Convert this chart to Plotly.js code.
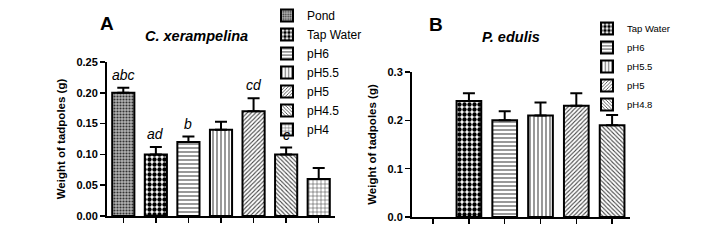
<!DOCTYPE html>
<html><head><meta charset="utf-8">
<script src="https://cdn.plot.ly/plotly-3.0.1.min.js"></script>
<style>html,body{margin:0;padding:0;background:#fff}#chart{width:712px;height:243px}</style>
</head><body><div id="chart"></div>
<script>
// Panel A: C. xerampelina
const catsA = ['Pond','Tap Water','pH6','pH5.5','pH5','pH4.5','pH4'];
const valsA = [0.200, 0.100, 0.120, 0.140, 0.170, 0.100, 0.060];
const errA  = [0.008, 0.012, 0.009, 0.013, 0.021, 0.011, 0.018];
const lettersA = ['abc','ad','b','','cd','c',''];
// Panel B: P. edulis (first slot empty)
const catsB = [' ','Tap Water','pH6','pH5.5','pH5','pH4.8'];
const valsB = [null, 0.240, 0.200, 0.210, 0.230, 0.190];
const errB  = [null, 0.016, 0.019, 0.027, 0.026, 0.021];
const tickValsA = [0, 0.05, 0.10, 0.15, 0.20, 0.25];
const tickValsB = [0, 0.1, 0.2, 0.3];

const patterns = {
  'Pond':      {shape:'.', fgcolor:'#333', bgcolor:'#b4b4b4', size:3, solidity:0.4},
  'Tap Water': {shape:'.', fgcolor:'#000', bgcolor:'#fff', size:5, solidity:0.6},
  'pH6':       {shape:'-', fgcolor:'#555', bgcolor:'#fff', size:4, solidity:0.3},
  'pH5.5':     {shape:'|', fgcolor:'#555', bgcolor:'#fff', size:4, solidity:0.3},
  'pH5':       {shape:'/', fgcolor:'#444', bgcolor:'#fff', size:3, solidity:0.35},
  'pH4.5':     {shape:'\\', fgcolor:'#444', bgcolor:'#fff', size:3, solidity:0.35},
  'pH4.8':     {shape:'\\', fgcolor:'#444', bgcolor:'#fff', size:3, solidity:0.35},
  'pH4':       {shape:'+', fgcolor:'#444', bgcolor:'#fff', size:4, solidity:0.25}
};

const traces = [];
catsA.forEach((c,i)=>{
  traces.push({
    type:'bar', x:[c], y:[valsA[i]], name:c, xaxis:'x', yaxis:'y', legend:'legend',
    width:0.68,
    marker:{color:'#fff', pattern:patterns[c], line:{color:'#000', width:2}},
    error_y:{type:'data', symmetric:false, array:[errA[i]], arrayminus:[0], color:'#000', thickness:2, width:6}
  });
});
catsB.forEach((c,i)=>{
  if (valsB[i]===null) return;
  traces.push({
    type:'bar', x:[c], y:[valsB[i]], name:c, xaxis:'x2', yaxis:'y2', legend:'legend2',
    width:0.69,
    marker:{color:'#fff', pattern:patterns[c], line:{color:'#000', width:2}},
    error_y:{type:'data', symmetric:false, array:[errB[i]], arrayminus:[0], color:'#000', thickness:2, width:6}
  });
});

const font = 'Liberation Sans, Arial, sans-serif';
const annotations = [];
catsA.forEach((c,i)=>{
  if (!lettersA[i]) return;
  annotations.push({xref:'x', yref:'y', x:c, y:valsA[i]+errA[i], text:'<i>'+lettersA[i]+'</i>',
    showarrow:false, yanchor:'bottom', yshift:3, font:{family:font, size:14, color:'#000'}});
});
annotations.push(
  {xref:'paper', yref:'paper', x:107/712, y:1-23/243, text:'<b>A</b>', showarrow:false, xanchor:'center', yanchor:'middle', font:{family:font, size:19, color:'#000'}},
  {xref:'paper', yref:'paper', x:196/712, y:1-36/243, text:'<b><i>C. xerampelina</i></b>', showarrow:false, xanchor:'center', yanchor:'middle', font:{family:font, size:14.5, color:'#000'}},
  {xref:'paper', yref:'paper', x:436/712, y:1-25/243, text:'<b>B</b>', showarrow:false, xanchor:'center', yanchor:'middle', font:{family:font, size:19, color:'#000'}},
  {xref:'paper', yref:'paper', x:511/712, y:1-37/243, text:'<b><i>P. edulis</i></b>', showarrow:false, xanchor:'center', yanchor:'middle', font:{family:font, size:14.5, color:'#000'}}
);

const xCommon = {type:'category', showticklabels:false, ticks:'outside', ticklen:5, tickwidth:1.5, tickcolor:'#000',
  showline:true, linecolor:'#000', linewidth:2, showgrid:false, zeroline:false, fixedrange:true};
const yCommon = {ticks:'outside', ticklen:5, tickwidth:1.5, tickcolor:'#000', showline:true, linecolor:'#000', linewidth:2,
  showgrid:false, zeroline:false, tickfont:{family:font, size:11, color:'#000', weight:'bold'},
  title:{text:'<b>Weight of tadpoles (g)</b>', font:{family:font, size:11.5, color:'#000'}, standoff:8}};

const layout = {
  width:712, height:243, margin:{l:0, r:0, t:0, b:0},
  paper_bgcolor:'#fff', plot_bgcolor:'#fff', barmode:'overlay', showlegend:true,
  font:{family:font, color:'#000'},
  xaxis: Object.assign({}, xCommon, {domain:[107/712, 335/712], anchor:'y', categoryorder:'array', categoryarray:catsA}),
  yaxis: Object.assign({}, yCommon, {domain:[1-216/243, 1-62/243], anchor:'x', range:[0,0.25], tickvals:tickValsA, tickformat:'.2f'}),
  xaxis2: Object.assign({}, xCommon, {domain:[412/712, 630/712], anchor:'y2', categoryorder:'array', categoryarray:catsB, range:[-0.59,5.5]}),
  yaxis2: Object.assign({}, yCommon, {domain:[1-217/243, 1-72/243], anchor:'x2', range:[0,0.3], tickvals:tickValsB, tickformat:'.1f'}),
  legend:{x:267/712, y:1-1/243, xanchor:'left', yanchor:'top', bgcolor:'rgba(0,0,0,0)', font:{family:font, size:12, color:'#000'}, tracegroupgap:0},
  legend2:{x:587/712, y:1-14/243, xanchor:'left', yanchor:'top', bgcolor:'rgba(0,0,0,0)', font:{family:font, size:9.5, color:'#000'}, tracegroupgap:0},
  annotations: annotations
};
Plotly.newPlot('chart', traces, layout, {staticPlot:true, displayModeBar:false});
</script></body></html>
